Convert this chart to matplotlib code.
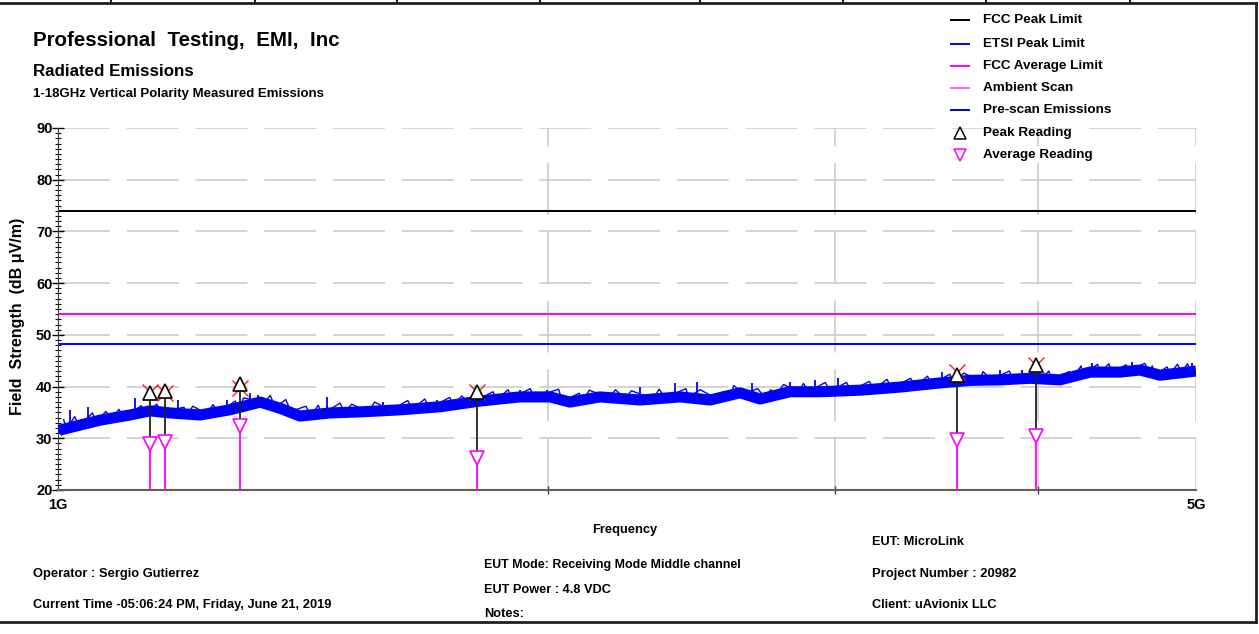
import numpy as np
import matplotlib
matplotlib.use('Agg')
import matplotlib.pyplot as plt
from matplotlib.lines import Line2D
from matplotlib.ticker import FixedLocator, MultipleLocator, NullFormatter
from matplotlib import font_manager as fm

_names = {f.name for f in fm.fontManager.ttflist}
FONT = 'Liberation Sans' if 'Liberation Sans' in _names else 'DejaVu Sans'
plt.rcParams['font.family'] = [FONT, 'DejaVu Sans']

# limits (dBuV/m)
FCC_PEAK = 74.0
ETSI_PEAK = 48.3
FCC_AVG = 54.0

# pre-scan trace, band centre (GHz, dBuV/m)
scan_f = [1.000, 1.003, 1.061, 1.107, 1.139, 1.172, 1.222, 1.275, 1.331, 1.369,
          1.408, 1.469, 1.532, 1.622, 1.717, 1.816, 1.922, 2.005, 2.063, 2.152,
          2.278, 2.410, 2.515, 2.624, 2.699, 2.816, 2.938, 3.110, 3.290, 3.481,
          3.633, 3.790, 3.954, 4.125, 4.304, 4.491, 4.619, 4.752, 5.000]
scan_db = [31.3, 31.6, 33.5, 34.5, 35.3, 34.9, 34.5, 35.5, 37.0, 35.8,
           34.3, 34.9, 35.1, 35.5, 36.1, 37.2, 38.0, 38.0, 37.0, 38.0,
           37.4, 38.0, 37.4, 38.8, 37.6, 39.0, 39.0, 39.3, 39.9, 40.7,
           41.2, 41.3, 41.6, 41.3, 42.8, 42.8, 43.2, 42.2, 43.0]

# ragged top edge of the trace (alternating crest / trough)
fuzz_f = [1.008, 1.012, 1.024, 1.030, 1.050, 1.055, 1.070, 1.078, 1.090, 1.098,
          1.125, 1.130, 1.150, 1.158, 1.195, 1.200, 1.210, 1.235, 1.245, 1.255,
          1.285, 1.292, 1.300, 1.340, 1.350, 1.360, 1.380, 1.390, 1.420, 1.430,
          1.445, 1.452, 1.490, 1.500, 1.515, 1.550, 1.565, 1.600, 1.640, 1.650,
          1.680, 1.690, 1.740, 1.750, 1.770, 1.790, 1.850, 1.860, 1.890, 1.900,
          1.950, 1.960, 2.030, 2.040, 2.090, 2.100, 2.120, 2.180, 2.200, 2.230,
          2.250, 2.320, 2.340, 2.360, 2.430, 2.440, 2.480, 2.540, 2.560, 2.590,
          2.600, 2.640, 2.690, 2.720, 2.740, 2.760, 2.790, 2.850, 2.870, 2.890,
          2.960, 2.980, 3.050, 3.070, 3.150, 3.170, 3.230, 3.250, 3.340, 3.360,
          3.420, 3.440, 3.530, 3.550, 3.600, 3.680, 3.700, 3.740, 3.840, 3.860,
          4.000, 4.020, 4.060, 4.080, 4.180, 4.200, 4.250, 4.260, 4.350, 4.370,
          4.420, 4.440, 4.530, 4.550, 4.650, 4.680, 4.700, 4.720, 4.800, 4.820,
          4.870, 4.900, 4.940, 4.960]
fuzz_db = [33.6, 31.8, 34.2, 32.3, 34.9, 33.1, 35.2, 33.6, 35.6, 34.0,
           36.3, 34.8, 36.6, 35.0, 36.0, 34.5, 36.2, 34.7, 36.5, 35.0,
           37.2, 35.6, 37.8, 37.0, 38.3, 36.0, 37.5, 35.2, 36.2, 34.4,
           36.4, 34.6, 36.8, 35.0, 36.6, 35.1, 37.0, 35.4, 37.3, 35.6,
           37.6, 35.8, 37.9, 36.3, 38.2, 36.6, 39.0, 37.4, 39.4, 37.7,
           39.6, 37.9, 39.5, 37.2, 38.7, 37.2, 39.3, 37.8, 39.4, 37.6,
           39.2, 37.6, 39.5, 37.8, 39.6, 38.0, 39.4, 37.6, 39.0, 38.0,
           40.2, 38.6, 39.6, 37.7, 39.4, 38.2, 40.4, 39.0, 40.6, 39.0,
           40.8, 39.1, 40.8, 39.2, 41.0, 39.5, 41.4, 39.7, 41.6, 40.0,
           42.0, 40.4, 42.4, 40.8, 42.6, 41.2, 42.9, 41.3, 43.0, 41.4,
           43.2, 41.6, 43.0, 41.4, 42.9, 41.6, 44.0, 42.2, 44.3, 42.8,
           44.4, 42.8, 44.2, 43.0, 44.5, 42.9, 44.0, 42.3, 43.8, 42.5,
           44.3, 42.8, 44.4, 43.0]

# tallest noise spikes on the trace
spike_f = [1.017, 1.043, 1.115, 1.185, 1.270, 1.312, 1.327, 1.463, 1.584, 1.709,
           1.922, 1.997, 2.278, 2.393, 2.469, 2.669, 2.816, 2.917, 3.014, 3.491,
           3.790, 3.910, 4.316, 4.567, 4.973]
spike_top = [35.5, 36.1, 37.8, 37.4, 37.4, 38.8, 38.4, 38.0, 37.0, 37.4,
             39.3, 39.3, 39.9, 40.7, 40.9, 40.7, 40.9, 41.3, 41.7, 42.8,
             43.2, 43.2, 44.5, 44.7, 44.5]
spike_base = [32.2, 33.0, 34.6, 34.7, 35.4, 36.5, 37.0, 34.9, 35.3, 36.0,
              38.0, 38.0, 37.4, 38.0, 37.6, 38.0, 39.0, 38.9, 39.3, 40.7,
              41.3, 41.5, 42.8, 43.0, 43.2]

# final readings
read_f = [1.139, 1.163, 1.294, 1.809, 3.566, 3.988]
peak_db = [38.8, 39.1, 40.5, 39.0, 42.2, 44.2]
cross_db = [39.0, 38.8, 39.7, 39.0, 42.8, 44.2]
avg_db = [28.9, 29.3, 32.4, 26.2, 29.7, 30.4]

legend_labels = ['FCC Peak Limit', 'ETSI Peak Limit', 'FCC Average Limit',
                 'Ambient Scan', 'Pre-scan Emissions', 'Peak Reading', 'Average Reading']

W, H = 1259, 634
fig = plt.figure(figsize=(W / 100, H / 100), dpi=100)
ax = fig.add_axes([58 / W, 1 - 490 / H, (1196 - 58) / W, (490 - 128) / H])

ax.set_xscale('log')
ax.set_xlim(1.0, 5.0)
ax.set_ylim(20, 90)

grid_kw = dict(color='#c8c8c8', lw=1.1, ls=(0, (34, 11)), zorder=0)
for y in range(30, 91, 10):
    ax.axhline(y, **grid_kw)
for x in (2.0, 3.0, 4.0, 5.0):
    ax.axvline(x, **grid_kw)

ax.axhline(FCC_PEAK, color='black', lw=1.4, zorder=2)
ax.axhline(FCC_AVG, color='#ff00ff', lw=1.4, zorder=2)
ax.axhline(ETSI_PEAK, color='#0000ff', lw=1.4, zorder=2)

blue = '#0000ff'
ax.plot(scan_f, scan_db, color=blue, lw=8, solid_joinstyle='round',
        solid_capstyle='butt', zorder=3)
ax.plot(fuzz_f, fuzz_db, color=blue, lw=1.0, zorder=3)
ax.vlines(spike_f, spike_base, spike_top, color=blue, lw=1.3, zorder=3)

ax.vlines(read_f, 20, avg_db, color='#ff00ff', lw=1.3, zorder=4)
ax.vlines(read_f, avg_db, peak_db, color='#222222', lw=1.3, zorder=4)
ax.plot(read_f, cross_db, ls='none', marker='x', ms=12, mec='#ff2020', mew=1.0, zorder=4.5)
ax.plot(read_f, avg_db, ls='none', marker='v', ms=10, mfc='white', mec='#ff00ff',
        mew=1.2, zorder=5)
ax.plot(read_f, peak_db, ls='none', marker='^', ms=10, mfc='white', mec='black',
        mew=1.2, zorder=5)

for s in ('top', 'right'):
    ax.spines[s].set_visible(False)
ax.spines['left'].set_color('#404040')
ax.spines['bottom'].set_color('#606060')
ax.spines['bottom'].set_linewidth(1.5)

ax.xaxis.set_major_locator(FixedLocator([1.0, 5.0]))
ax.set_xticklabels(['1G', '5G'], fontsize=10.5, fontweight='bold')
ax.xaxis.set_minor_locator(FixedLocator([2.0, 3.0, 4.0]))
ax.xaxis.set_minor_formatter(NullFormatter())
ax.tick_params(axis='x', which='major', length=0, pad=6)
ax.tick_params(axis='x', which='minor', direction='inout', length=6, width=1, color='#404040')

ax.yaxis.set_major_locator(MultipleLocator(10))
ax.yaxis.set_minor_locator(MultipleLocator(1))
ax.tick_params(axis='y', which='major', direction='inout', length=8, width=1, pad=0,
               labelsize=10.5)
ax.tick_params(axis='y', which='minor', direction='inout', length=5, width=0.8)
for t in ax.get_yticklabels():
    t.set_fontweight('bold')

fig.text(18 / W, 1 - 316 / H, 'Field  Strength  (dB μV/m)', rotation=90,
         ha='center', va='center', fontsize=11.5, fontweight='bold')
fig.text(625 / W, 1 - 530 / H, 'Frequency', ha='center', va='center',
         fontsize=9.3, fontweight='bold')

fig.text(33 / W, 1 - 41 / H, 'Professional  Testing,  EMI,  Inc', ha='left', va='center',
         fontsize=14.8, fontweight='bold')
fig.text(33 / W, 1 - 71 / H, 'Radiated Emissions', ha='left', va='center',
         fontsize=12.2, fontweight='bold')
fig.text(33 / W, 1 - 94 / H, '1-18GHz Vertical Polarity Measured Emissions', ha='left',
         va='center', fontsize=9.5, fontweight='bold')

foot = [(33, 574, 'Operator : Sergio Gutierrez', 9.3),
        (33, 605, 'Current Time -05:06:24 PM, Friday, June 21, 2019', 9.25),
        (484, 565, 'EUT Mode: Receiving Mode Middle channel', 8.9),
        (484, 590, 'EUT Power : 4.8 VDC', 9.2),
        (484, 614, 'Notes:', 9.2),
        (872, 542, 'EUT: MicroLink', 9.2),
        (872, 574, 'Project Number : 20982', 9.4),
        (872, 605, 'Client: uAvionix LLC', 9.2)]
for x, y, s, fs in foot:
    fig.text(x / W, 1 - y / H, s, ha='left', va='center', fontsize=fs,
             fontweight='bold')

# legend drawn by hand, as in the test-report layout
handles = [dict(color='black'), dict(color='#0000ff'), dict(color='#ff00ff'),
           dict(color='#ff66ff'), dict(color='#0000cc'),
           dict(marker='^', mec='black'), dict(marker='v', mec='#ff00ff')]
rows = [20, 44, 66, 88, 110, 133, 155]
for y, lab, h in zip(rows, legend_labels, handles):
    yy = 1 - y / H
    if 'marker' in h:
        fig.add_artist(Line2D([960 / W], [yy], ls='none', marker=h['marker'], ms=9,
                              mfc='white', mec=h['mec'], mew=1.1))
    else:
        fig.add_artist(Line2D([951 / W, 969 / W], [yy, yy], color=h['color'], lw=1.4))
    fig.text(983 / W, yy, lab, ha='left', va='center', fontsize=9.7,
             fontweight='bold')

# page frame
frame = dict(color='#202020', lw=2)
fig.add_artist(Line2D([0, 1256 / W], [1 - 3 / H, 1 - 3 / H], **frame))
fig.add_artist(Line2D([1256 / W, 1256 / W], [1 - 3 / H, 1 - 622 / H], **frame))
fig.add_artist(Line2D([0, 1256 / W], [1 - 622 / H, 1 - 622 / H], **frame))
for x in (111, 255, 397, 540, 700, 843, 986, 1130):
    fig.add_artist(Line2D([x / W, x / W], [1, 1 - 3 / H], color='#202020', lw=1.5))

fig.savefig('out.png', dpi=100)
